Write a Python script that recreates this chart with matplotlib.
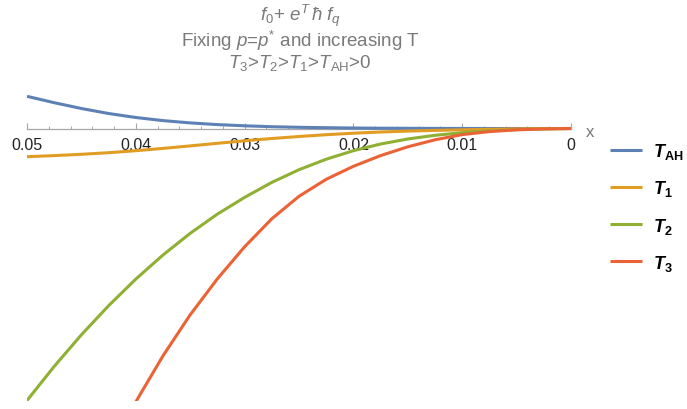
import numpy as np
import matplotlib
matplotlib.use("Agg")
import matplotlib.pyplot as plt
from matplotlib.ticker import MultipleLocator

plt.rcParams["font.family"] = ["Liberation Sans", "DejaVu Sans"]
plt.rcParams["mathtext.fontset"] = "custom"
plt.rcParams["mathtext.rm"] = "Liberation Sans"
plt.rcParams["mathtext.it"] = "Liberation Sans:italic"
plt.rcParams["mathtext.bf"] = "Liberation Sans:bold"
plt.rcParams["mathtext.bfit"] = "Liberation Sans:italic:bold"

# x grid (reversed axis in the plot: 0.05 on the left, 0 on the right)
x = [0.05, 0.0475, 0.045, 0.0425, 0.04, 0.0375, 0.035, 0.0325, 0.03, 0.0275, 0.025,
     0.0225, 0.02, 0.0175, 0.015, 0.0125, 0.01, 0.0075, 0.005, 0.0025, 0.0]

t_ah = [0.322, 0.258, 0.200, 0.150, 0.110, 0.079, 0.056, 0.039, 0.027, 0.018, 0.012,
        0.008, 0.005, 0.003, 0.002, 0.001, 0.0005, 0.0, 0.0, 0.0, 0.0]
t_1 = [-0.282, -0.271, -0.258, -0.242, -0.222, -0.199, -0.174, -0.148, -0.123, -0.100, -0.080,
       -0.062, -0.047, -0.035, -0.026, -0.019, -0.013, -0.008, -0.004, -0.001, 0.0]
t_2 = [-2.72, -2.379, -2.063, -1.772, -1.506, -1.265, -1.048, -0.856, -0.689, -0.539, -0.412,
       -0.307, -0.222, -0.155, -0.105, -0.068, -0.042, -0.024, -0.012, -0.004, 0.0]
# T3 starts just past the bottom of the frame at x = 0.04
x3 = x[4:]
t_3 = [-2.733, -2.273, -1.863, -1.503, -1.183, -0.903, -0.678, -0.508, -0.378,
       -0.271, -0.183, -0.113, -0.061, -0.031, -0.013, -0.004, 0.0]

labels = [r"$\mathbfit{T}_{\mathbf{AH}}$", r"$\mathbfit{T}_{\mathbf{1}}$",
          r"$\mathbfit{T}_{\mathbf{2}}$", r"$\mathbfit{T}_{\mathbf{3}}$"]
colors = ["#5E81B5", "#E19C24", "#8FB032", "#EB6235"]

xticks = [0.05, 0.04, 0.03, 0.02, 0.01, 0.0]
xticklabels = ["0.05", "0.04", "0.03", "0.02", "0.01", "0"]

title_lines = [r"$f_0$+ $e^T\,\hbar\;f_q$",
               r"Fixing $p$=$p^{*}$ and increasing T",
               r"$T_3$>$T_2$>$T_1$>$T_{\rm AH}$>0"]

fig = plt.figure(figsize=(6.87, 4.10), dpi=100)
ax = fig.add_axes([27 / 687, 1 - 402 / 410, 544 / 687, 306 / 410])

series = [(x, t_ah), (x, t_1), (x, t_2), (x3, t_3)]
handles = []
for (xs, ys), c, lab in zip(series, colors, labels):
    h, = ax.plot(xs, ys, color=c, lw=2.2, label=lab, solid_capstyle="butt",
                 solid_joinstyle="round", zorder=3)
    handles.append(h)

ax.set_xlim(0.05, 0.0)
ax.set_ylim(-2.725, 0.335)

for s in ["left", "right", "top"]:
    ax.spines[s].set_visible(False)
ax.spines["bottom"].set_position(("data", 0))
ax.spines["bottom"].set_color("#a6a6a6")
ax.spines["bottom"].set_linewidth(0.9)
ax.yaxis.set_visible(False)

ax.set_xticks(xticks)
ax.set_xticklabels(xticklabels)
ax.xaxis.set_minor_locator(MultipleLocator(0.002))
ax.tick_params(axis="x", which="major", direction="in", length=4.5, width=0.8,
               color="#a6a6a6", labelsize=11.5, labelcolor="#222222", pad=6)
ax.tick_params(axis="x", which="minor", direction="in", length=2.5, width=0.7,
               color="#a6a6a6")

ax.annotate("x", xy=(1, 0), xycoords=("axes fraction", "data"), xytext=(14, -2),
            textcoords="offset points", va="center", ha="center",
            fontsize=12, color="#777777")

# three title lines, placed by baseline
for line, yb in zip(title_lines, [21, 47, 68]):
    fig.text(300 / 687, 1 - yb / 410, line, ha="center", va="baseline",
             fontsize=13.5, color="#7a7a7a")

fig.legend(handles=handles, labels=labels, loc="upper left",
           bbox_to_anchor=(603 / 687, 1 - 135 / 410), frameon=False,
           fontsize=13, handlelength=1.78, handletextpad=0.6, labelspacing=0.95,
           borderaxespad=0.0)

fig.savefig("out.png", dpi=100)
